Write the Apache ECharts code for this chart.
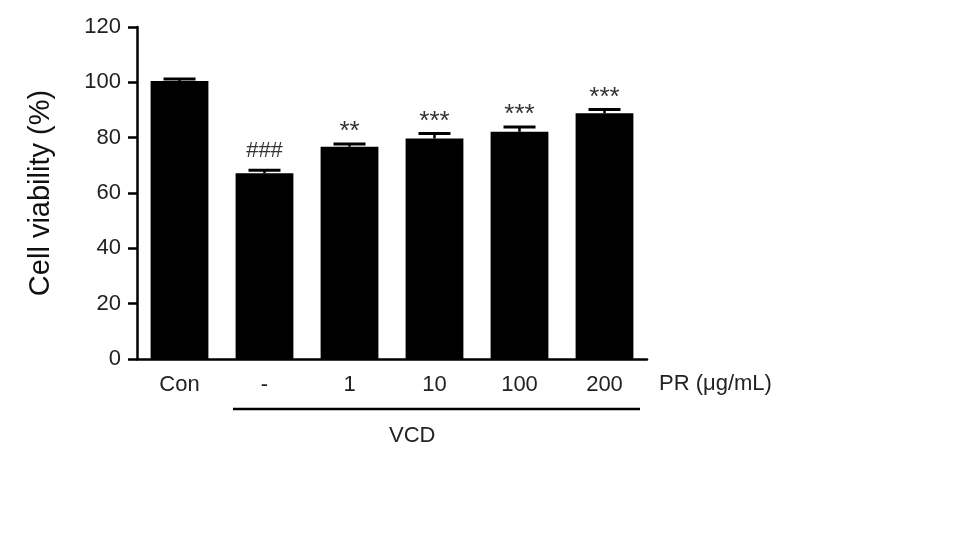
<!DOCTYPE html>
<html><head><meta charset="utf-8">
<script src="https://cdn.jsdelivr.net/npm/echarts@6/dist/echarts.min.js"></script>
<style>html,body{margin:0;padding:0;background:#fff}#c{width:953px;height:550px}</style>
</head><body><div id="c"></div>
<script>
const categories = ['Con', '-', '1', '10', '100', '200'];
const viability = [100.5, 67.1, 76.7, 79.7, 82.1, 88.8];
const errorUpper = [101.2, 68.2, 77.7, 81.5, 83.9, 90.2];
const marks = ['', '###', '**', '***', '***', '***'];
const yTicks = [0, 20, 40, 60, 80, 100, 120];

const font = 'Liberation Sans, Arial, sans-serif';
const chart = echarts.init(document.getElementById('c'));
chart.setOption({
  animation: false,
  grid: { left: 137, top: 27, width: 510, height: 332 },
  xAxis: {
    type: 'category', data: categories,
    axisLine: { lineStyle: { color: '#000', width: 2.5 } },
    axisTick: { alignWithLabel: true, length: 9, lineStyle: { color: '#000', width: 2.5 } },
    axisLabel: { color: '#222', fontSize: 22, fontFamily: font, margin: 15 }
  },
  yAxis: {
    type: 'value', min: 0, max: 120, interval: 20,
    name: 'Cell viability (%)', nameLocation: 'middle', nameGap: 82,
    nameTextStyle: { color: '#111', fontSize: 29, fontFamily: font },
    axisLine: { show: true, lineStyle: { color: '#000', width: 2.5 } },
    axisTick: { show: true, length: 9, lineStyle: { color: '#000', width: 2.5 } },
    axisLabel: { color: '#222', fontSize: 22, fontFamily: font, margin: 16,
      formatter: v => yTicks.includes(v) ? String(v) : '' },
    splitLine: { show: false }
  },
  series: [
    { type: 'bar', data: viability, barCategoryGap: '32%',
      itemStyle: { color: '#000' } },
    { type: 'custom', data: categories.map((c, i) => [i, viability[i], errorUpper[i]]),
      renderItem: function (params, api) {
        const x = api.coord([api.value(0), 0])[0];
        const top = api.coord([api.value(0), api.value(1)])[1];
        const cap = api.coord([api.value(0), api.value(2)])[1];
        const half = 16;
        const m = marks[params.dataIndex];
        const isHash = m.indexOf('#') >= 0;
        return { type: 'group', children: [
          { type: 'line', shape: { x1: x, y1: top, x2: x, y2: cap }, style: { stroke: '#000', lineWidth: 2.5 } },
          { type: 'line', shape: { x1: x - half, y1: cap, x2: x + half, y2: cap }, style: { stroke: '#000', lineWidth: 3 } },
          { type: 'text', x: x, y: cap - (isHash ? 19 : 12), style: { text: m, fill: '#333',
            font: (isHash ? '22px ' : '26px ') + font, align: 'center', verticalAlign: 'middle' } }
        ]};
      }, z: 5 }
  ],
  graphic: [
    { type: 'text', left: 659, top: 373, style: { text: 'PR (μg/mL)', fill: '#222', font: '22px ' + font } },
    { type: 'line', shape: { x1: 233, y1: 409, x2: 640, y2: 409 }, style: { stroke: '#000', lineWidth: 2.5 } },
    { type: 'text', left: 389, top: 425, style: { text: 'VCD', fill: '#222', font: '22px ' + font } }
  ]
});
</script></body></html>
